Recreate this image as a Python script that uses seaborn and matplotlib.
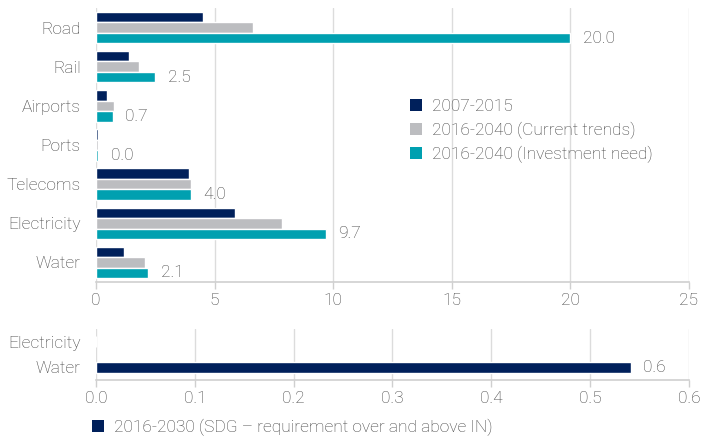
import matplotlib
matplotlib.use("Agg")
import matplotlib.pyplot as plt
import seaborn as sns
import pandas as pd
from matplotlib.patches import Patch

categories = ["Road", "Rail", "Airports", "Ports", "Telecoms", "Electricity", "Water"]
series_names = ["2007-2015", "2016-2040 (Current trends)", "2016-2040 (Investment need)"]
hist_2007_2015 = [4.5, 1.4, 0.45, 0.1, 3.9, 5.85, 1.2]
current_trends = [6.6, 1.8, 0.75, 0.08, 4.0, 7.85, 2.05]
investment_need = [20.0, 2.5, 0.7, 0.1, 4.0, 9.7, 2.2]
need_labels = ["20.0", "2.5", "0.7", "0.0", "4.0", "9.7", "2.1"]
top_ticks = [0, 5, 10, 15, 20, 25]

sdg_categories = ["Electricity", "Water"]
sdg_series = "2016-2030 (SDG \u2013 requirement over and above IN)"
sdg_values = [0.0, 0.541]
sdg_labels = ["", "0.6"]
bottom_ticks = [0.0, 0.1, 0.2, 0.3, 0.4, 0.5, 0.6]

colors = ["#00205b", "#bcbdc0", "#00a0b0"]
text_color = "#404040"
grid_color = "#dcdcdc"
fs = 12.5

sns.set_theme(style="white")
plt.rcParams["font.family"] = ["Roboto", "DejaVu Sans"]

fig = plt.figure(figsize=(7.02, 4.37), dpi=100)
ax1 = fig.add_axes([96 / 702, 1 - 282 / 437, 593 / 702, 274 / 437])
ax2 = fig.add_axes([96 / 702, 1 - 380 / 437, 593 / 702, 51 / 437])

df = pd.DataFrame({
    "category": categories * 3,
    "value": hist_2007_2015 + current_trends + investment_need,
    "series": [series_names[0]] * 7 + [series_names[1]] * 7 + [series_names[2]] * 7,
})
sns.barplot(data=df, y="category", x="value", hue="series", orient="h",
            palette=colors, width=0.8, saturation=1, ax=ax1, legend=False,
            order=categories, hue_order=series_names)
ax1.bar_label(ax1.containers[2], labels=need_labels, padding=9,
              color=text_color, fontsize=fs, fontweight="light")

df2 = pd.DataFrame({"category": sdg_categories, "value": sdg_values})
sns.barplot(data=df2, y="category", x="value", orient="h", color=colors[0],
            width=0.43, saturation=1, ax=ax2, order=sdg_categories)
ax2.bar_label(ax2.containers[0], labels=sdg_labels, padding=9,
              color=text_color, fontsize=fs, fontweight="light")

for ax, ticks, fmt in [(ax1, top_ticks, "{:g}"), (ax2, bottom_ticks, "{:.1f}")]:
    ax.set_xlim(ticks[0], ticks[-1])
    ax.set_xticks(ticks)
    ax.set_xticklabels([fmt.format(t) for t in ticks])
    ax.set_xlabel("")
    ax.set_ylabel("")
    ax.grid(axis="x", color=grid_color, linewidth=1)
    ax.set_axisbelow(True)
    for s in ["top", "right", "left"]:
        ax.spines[s].set_visible(False)
    ax.spines["bottom"].set_color("#cfcfcf")
    ax.spines["bottom"].set_linewidth(1.2)
    ax.tick_params(axis="x", colors="#cfcfcf", labelcolor=text_color, length=5,
                   width=1, labelsize=fs, pad=3, direction="out", bottom=True)
    ax.tick_params(axis="y", length=0, labelcolor=text_color, labelsize=fs, pad=11)
    for lab in ax.get_xticklabels() + ax.get_yticklabels():
        lab.set_fontweight("light")

handles = [Patch(facecolor=c, edgecolor="none") for c in colors]
leg1 = ax1.legend(handles, series_names, loc="upper left", bbox_to_anchor=(0.503, 0.725),
                  frameon=False, handlelength=0.7, handleheight=0.7, handletextpad=0.6,
                  labelspacing=0.42, fontsize=fs, labelcolor=text_color)
for t in leg1.get_texts():
    t.set_fontweight("light")

leg2 = fig.legend([Patch(facecolor=colors[0], edgecolor="none")], [sdg_series],
                  loc="center left", bbox_to_anchor=(76 / 702, 1 - 427 / 437),
                  frameon=False, handlelength=0.7, handleheight=0.7, handletextpad=0.6,
                  fontsize=fs, labelcolor=text_color)
for t in leg2.get_texts():
    t.set_fontweight("light")

fig.savefig("out.png", dpi=100)
